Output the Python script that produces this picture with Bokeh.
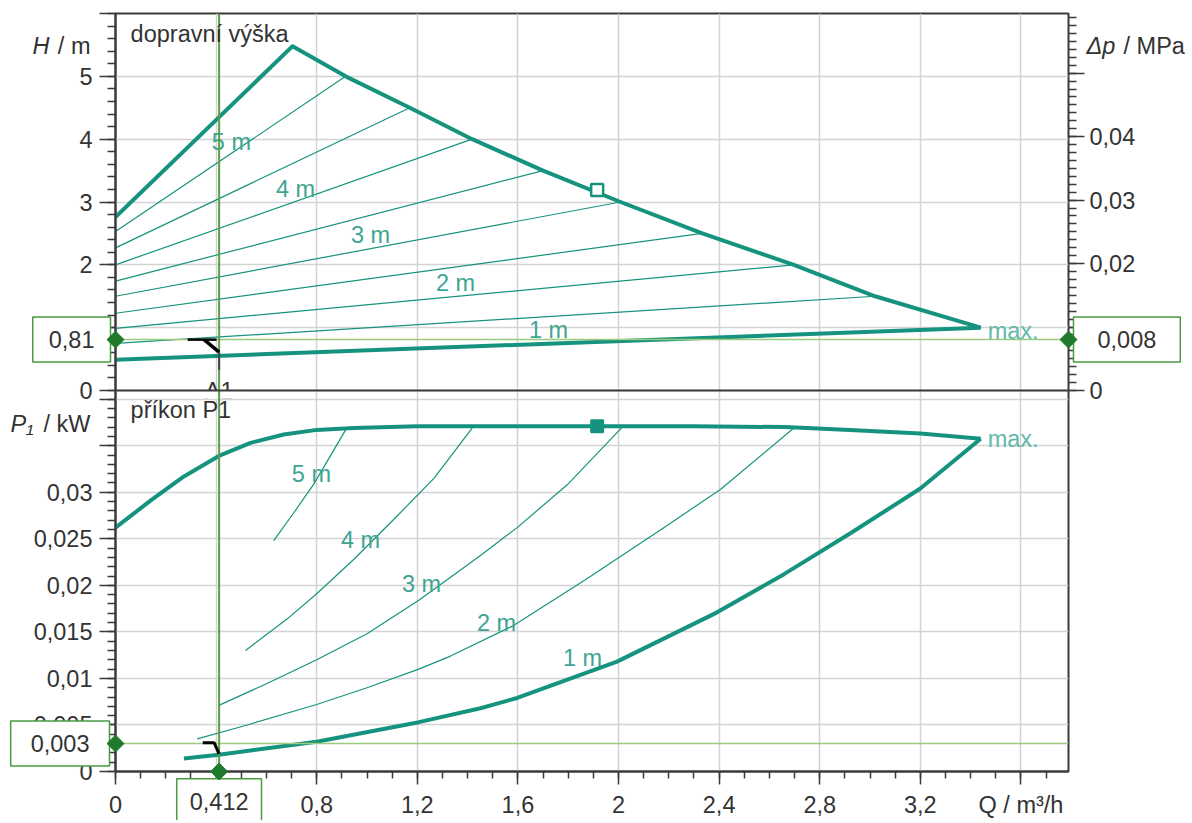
import numpy as np
from bokeh.plotting import figure
from bokeh.models import (Range1d, LinearAxis, FixedTicker, CustomJSTickFormatter, Span)
from bokeh.core.properties import value
from bokeh.embed import file_html
from bokeh.resources import INLINE

# ---------------- data ----------------
# top panel: head H [m] vs flow Q [m3/h]
max_q = [0.0, 0.704, 0.915, 1.17, 1.418, 1.70, 2.008, 2.333, 2.697, 3.02, 3.44]
max_h = [2.76, 5.48, 5.0, 4.5, 4.0, 3.5, 3.0, 2.5, 2.0, 1.5, 1.0]
min_q = [0.0, 3.44]
min_h = [0.49, 1.0]
# thin control lines (set points 1.5 ... 5 m)
ctrl_h0 = [0.75, 0.99, 1.23, 1.5, 1.74, 2.0, 2.27, 2.53]
ctrl_qend = [3.02, 2.697, 2.333, 2.008, 1.70, 1.418, 1.17, 0.915]
ctrl_hend = [1.5, 2.0, 2.5, 3.0, 3.5, 4.0, 4.5, 5.0]
top_label_text = ["1 m", "2 m", "3 m", "4 m", "5 m"]
top_label_q = [1.722, 1.352, 1.014, 0.716, 0.461]
top_label_h = [0.97, 1.71, 2.48, 3.21, 3.95]

# bottom panel: power input P1 [kW] vs Q
pmax_q = [0.0, 0.139, 0.272, 0.411, 0.537, 0.669, 0.80, 0.948, 1.2, 1.6, 1.915, 2.3, 2.66, 2.92, 3.2, 3.44]
pmax_p = [0.0262, 0.0291, 0.0317, 0.0339, 0.0353, 0.0362, 0.0367, 0.0369, 0.0371, 0.0371,
          0.0371, 0.0371, 0.0370, 0.0367, 0.0363, 0.03575]
p1_q = [0.272, 0.411, 0.80, 1.206, 1.451, 1.597, 1.994, 2.392, 2.658, 2.922, 3.2, 3.44]
p1_p = [0.0014, 0.0018, 0.0032, 0.0053, 0.0068, 0.0079, 0.0118, 0.0171, 0.0212, 0.0256, 0.0304, 0.03575]
p2_q = [0.325, 0.524, 0.80, 1.0, 1.206, 1.332, 1.584, 1.862, 2.18, 2.405, 2.697]
p2_p = [0.0035, 0.0050, 0.0072, 0.0090, 0.0110, 0.0124, 0.0157, 0.0205, 0.0262, 0.0303, 0.0369]
p3_q = [0.411, 0.59, 0.80, 1.0, 1.206, 1.451, 1.597, 1.796, 2.015]
p3_p = [0.0071, 0.0093, 0.0120, 0.0148, 0.0184, 0.0232, 0.0262, 0.0308, 0.0370]
p4_q = [0.517, 0.683, 0.80, 0.948, 1.107, 1.266, 1.418]
p4_p = [0.0130, 0.0164, 0.0191, 0.0228, 0.0271, 0.0315, 0.0369]
p5_q = [0.629, 0.709, 0.789, 0.915]
p5_p = [0.0248, 0.0278, 0.0309, 0.0367]
bot_label_text = ["1 m", "2 m", "3 m", "4 m", "5 m"]
bot_label_q = [1.857, 1.515, 1.217, 0.974, 0.779]
bot_label_p = [0.01221, 0.01597, 0.02014, 0.02486, 0.0320]

# rated point markers
rated_q = [1.915]
rated_h = [3.19]
rated_p = [0.0371]

# operating point
op_Q = 0.412
op_H = 0.81
op_dp = 0.008
op_P = 0.003

x_ticks = [0.0, 0.4, 0.8, 1.2, 1.6, 2.0, 2.4, 2.8, 3.2, 3.6]
h_ticks = [0, 1, 2, 3, 4, 5, 6]
h_tick_labels = ["0", "1", "2", "3", "4", "5", ""]
p_ticks = [0.0, 0.005, 0.01, 0.015, 0.02, 0.025, 0.03, 0.035, 0.04]
p_tick_labels = ["0", "0,005", "0,01", "0,015", "0,02", "0,025", "0,03", "", ""]
dp_ticks = [0.0, 0.01, 0.02, 0.03, 0.04, 0.05]

# ---------------- geometry ----------------
Q_END = 3.789
H_TOP = 6.0
H_BOT = -6.063
P_SEP = 0.04093
P_TOP = P_SEP * (H_TOP - H_BOT) / (-H_BOT)
K_DP = 0.0099


def p_to_h(v):
    return H_BOT + v / P_TOP * (H_TOP - H_BOT)


teal = "#16937e"
label_teal = "#3ea592"
max_teal = "#63b8a8"
grid_col = "#d3d3d3"
axis_col = "#3a3a3a"
txt_col = "#333333"
op_vert = "#5a9d48"
op_horiz = "#9ccb80"
diamond_col = "#1f7a2c"
box_col = "#4a9a42"
FONT = "Liberation Sans"
FS = "23.5px"

p = figure(width=1188, height=820, x_range=Range1d(0, Q_END), y_range=Range1d(H_BOT, H_TOP),
           output_backend="svg", toolbar_location=None,
           min_border_left=115, min_border_right=120, min_border_top=13, min_border_bottom=47)
p.extra_y_ranges = {"P": Range1d(0, P_TOP), "dp": Range1d(H_BOT * K_DP, H_TOP * K_DP)}
p.outline_line_color = axis_col
p.outline_line_width = 2
p.background_fill_color = "white"


def style_axis(ax):
    ax.axis_line_color = axis_col
    ax.axis_line_width = 2
    ax.major_tick_line_color = axis_col
    ax.minor_tick_line_color = axis_col
    ax.major_tick_line_width = 1.5
    ax.minor_tick_line_width = 1.5
    ax.major_tick_in = 0
    ax.minor_tick_in = 0
    ax.major_label_text_font = FONT
    ax.major_label_text_font_size = FS
    ax.major_label_text_color = txt_col


# x axis
xax = p.xaxis[0]
style_axis(xax)
x_ticker = FixedTicker(ticks=x_ticks, minor_ticks=[round(0.1 * i, 2) for i in range(38)])
xax.ticker = x_ticker
xax.major_tick_out = 13
xax.minor_tick_out = 7
xax.major_label_standoff = 7
xax.formatter = CustomJSTickFormatter(code="""
if (Math.abs(tick - 3.6) < 1e-6) { return "Q / m³/h"; }
return String(Math.round(tick * 10) / 10).replace(".", ",");
""")
p.xgrid[0].ticker = x_ticker

# left axis (both panels share it)
left_pos = [float(v) for v in h_ticks] + [p_to_h(v) for v in p_ticks]
left_lab = h_tick_labels + p_tick_labels
left_minor = [p_to_h(0.001 * i) for i in range(41)] + [0.2 * i for i in range(31)]
yax = p.yaxis[0]
style_axis(yax)
y_ticker = FixedTicker(ticks=left_pos, minor_ticks=left_minor)
yax.ticker = y_ticker
yax.major_tick_out = 16
yax.minor_tick_out = 8
yax.major_label_standoff = 7
yax.formatter = CustomJSTickFormatter(args=dict(pos=left_pos, lab=left_lab), code="""
for (let i = 0; i < pos.length; i++) { if (Math.abs(pos[i] - tick) < 1e-6) { return lab[i]; } }
return "";
""")
p.ygrid[0].ticker = FixedTicker(ticks=left_pos)

for g in (p.xgrid[0], p.ygrid[0]):
    g.grid_line_color = grid_col
    g.grid_line_width = 1.5

# right axis (pressure)
rax = LinearAxis(y_range_name="dp")
style_axis(rax)
rax.axis_line_color = None
rax.ticker = FixedTicker(ticks=dp_ticks, minor_ticks=[0.00125 * i for i in range(48)])
rax.major_tick_out = 16
rax.minor_tick_out = 8
rax.major_label_standoff = 5
rax.formatter = CustomJSTickFormatter(code="""
if (Math.abs(tick - 0.05) < 1e-9) { return ""; }
return String(Math.round(tick * 100) / 100).replace(".", ",");
""")
p.add_layout(rax, "right")

# ---------------- curves ----------------
p.multi_line(xs=[[0.0, qe] for qe in ctrl_qend],
             ys=[[h0, he] for h0, he in zip(ctrl_h0, ctrl_hend)],
             line_color=teal, line_width=1.2)
p.line(max_q, max_h, line_color=teal, line_width=4, line_join="round")
p.line(min_q, min_h, line_color=teal, line_width=4)

p.multi_line(xs=[p2_q, p3_q, p4_q, p5_q], ys=[p2_p, p3_p, p4_p, p5_p],
             line_color=teal, line_width=1.2, line_join="round", y_range_name="P")
p.line(pmax_q, pmax_p, line_color=teal, line_width=4, line_join="round", y_range_name="P")
p.line(p1_q, p1_p, line_color=teal, line_width=4, line_join="round", y_range_name="P")

p.scatter(rated_q, rated_h, marker="square", size=12, fill_color="white",
          line_color=teal, line_width=2.5)
p.scatter(rated_q, rated_p, marker="square", size=12, fill_color=teal,
          line_color=teal, line_width=2, y_range_name="P")

p.text(x=top_label_q, y=top_label_h, text=top_label_text, text_align="center",
       text_baseline="middle", text_font=value(FONT), text_font_size=FS, text_color=label_teal)
p.text(x=bot_label_q, y=bot_label_p, text=bot_label_text, text_align="center",
       text_baseline="middle", text_font=value(FONT), text_font_size=FS, text_color=label_teal,
       y_range_name="P")

# A1 marker text (lower half hidden under the lower panel)
p.text(x=[op_Q], y=[0.0], text=["A1"], text_align="center", text_baseline="middle",
       text_font=value(FONT), text_font_size=FS, text_color=txt_col)
p.quad(left=[op_Q - 0.09], right=[op_Q + 0.09], top=[0.0], bottom=[-0.13],
       fill_color="white", line_color=None)

# ---------------- operating point lines ----------------
p.add_layout(Span(location=op_H, dimension="width", line_color=op_horiz, line_width=1.5))
p.add_layout(Span(location=op_P, dimension="width", line_color=op_horiz, line_width=1.5,
                  y_range_name="P"))
p.add_layout(Span(location=op_Q, dimension="height", line_color=op_vert, line_width=2))
p.add_layout(Span(location=0, dimension="width", line_color=axis_col, line_width=2))

# operating point hooks
hk1 = p.line([op_Q - 0.125, op_Q - 0.01], [op_H, op_H], line_color="black", line_width=2.5)
hk2 = p.line([op_Q - 0.06, op_Q], [op_H, op_H - 0.2], line_color="black", line_width=3.5)
hk3 = p.line([op_Q, op_Q], [op_H - 0.2, op_H - 0.48], line_color="#444444", line_width=2)
hk4 = p.line([op_Q - 0.065, op_Q - 0.02, op_Q], [op_P + 0.0001, op_P + 0.0001, op_P - 0.0011],
             line_color="black", line_width=3, y_range_name="P")
for r in (hk1, hk2, hk3, hk4):
    r.level = "overlay"


# ---------------- texts outside the frame (unclipped overlay text glyphs) ----------------
def txt(x, y, s, align="left", xo=0, italic=False, color=txt_col, yr="default", **kw):
    p.text(x=[x], y=[y], text=[s], text_align=align, text_baseline="middle", x_offset=xo,
           text_font=value(FONT), text_font_size=FS,
           text_font_style="italic" if italic else "normal", text_color=color,
           y_range_name=yr, level="overlay", **kw)


def fmt(v):
    return ("%g" % v).replace(".", ",")


box_kw = dict(background_fill_color="white", border_line_color=box_col, border_line_width=1.5)
txt(0, op_H, fmt(op_H), align="right", xo=-5,
    padding=dict(left=16, right=16, top=14, bottom=14), **box_kw)
txt(Q_END, op_H, fmt(op_dp), align="left", xo=5,
    padding=dict(left=24, right=24, top=14, bottom=14), **box_kw)
txt(0, op_P, fmt(op_P), align="right", xo=-6, yr="P",
    padding=dict(left=20, right=20, top=14, bottom=14), **box_kw)
txt(op_Q, -0.0032, fmt(op_Q), align="center", yr="P",
    padding=dict(left=13, right=13, top=14, bottom=14), **box_kw)

# diamonds (unclipped, on top)
dk = dict(marker="square", angle=np.pi / 4, size=12, fill_color=diamond_col,
          line_color=diamond_col, level="overlay")
p.scatter([0.0], [op_H], **dk)
p.scatter([Q_END], [op_H], **dk)
p.scatter([0.0], [op_P], y_range_name="P", **dk)
p.scatter([op_Q], [0.0], y_range_name="P", **dk)

# ---------------- titles ----------------
txt(0.06, 5.68, "dopravní výška")
txt(0.06, 0.0388, "příkon P1", yr="P")
txt(0, 5.49, "H", xo=-83, italic=True)
txt(0, 5.49, "/ m", align="right", xo=-25)
txt(0, 0.0373, "P₁", xo=-105, italic=True, yr="P")
txt(0, 0.0373, "/ kW", align="right", xo=-25, yr="P")
txt(Q_END, 5.49, "Δp", xo=18, italic=True)
txt(Q_END, 5.49, "/ MPa", xo=55)
txt(max_q[-1], max_h[-1] - 0.06, "max.", xo=7, color=max_teal)
txt(pmax_q[-1], pmax_p[-1], "max.", xo=7, color=max_teal, yr="P")

open("out.html", "w").write(file_html(p, INLINE))
